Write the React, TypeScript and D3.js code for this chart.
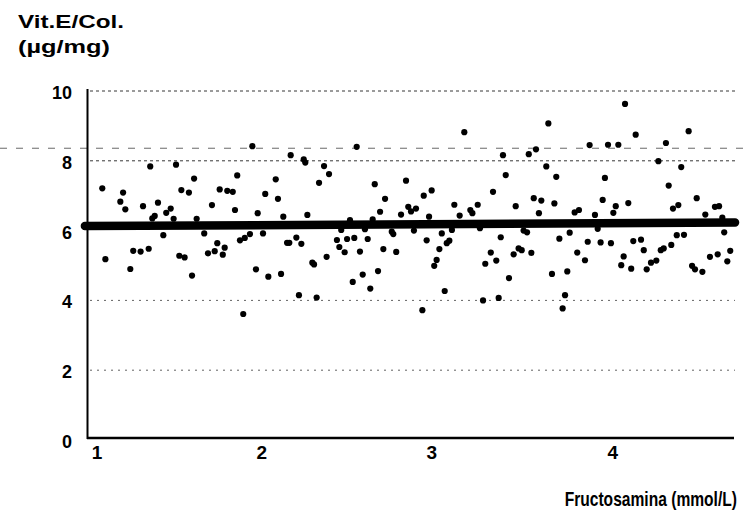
import React from "react";
import * as d3 from "d3";

const fructosamina = [
  1.054, 1.072, 1.175, 1.159, 1.188, 1.217, 1.234, 1.277, 1.324, 1.333, 1.291, 1.378, 1.359, 1.345, 1.409, 1.426, 1.452, 1.469, 1.483, 1.514,
  1.558, 1.588, 1.502, 1.533, 1.576, 1.603, 1.647, 1.692, 1.737, 1.781, 1.813, 1.839, 1.826, 1.723, 1.766, 1.755, 1.708, 1.669, 1.855, 1.883,
  1.913, 1.927, 1.958, 1.989, 2.002, 1.948, 2.020, 2.076, 2.063, 2.094, 2.107, 2.129, 2.142, 2.183, 2.212, 2.150, 2.226, 2.235, 2.247, 2.198,
  1.874, 2.315, 2.344, 2.373, 2.276, 2.286, 2.359, 2.301, 2.419, 2.433, 2.464, 2.478, 2.520, 2.553, 2.495, 2.444, 2.534, 2.598, 2.639, 2.670,
  2.699, 2.627, 2.582, 2.511, 2.569, 2.613, 2.658, 2.689, 2.738, 2.747, 2.764, 2.792, 2.821, 2.834, 2.850, 2.879, 2.867, 2.924, 2.970, 2.955,
  2.941, 3.015, 3.029, 3.058, 3.073, 3.088, 2.999, 2.985, 3.046, 2.916, 3.102, 3.133, 3.160, 3.195, 3.207, 3.238, 3.251, 3.327, 3.282, 3.314,
  3.346, 3.269, 3.360, 3.372, 3.385, 3.401, 3.420, 3.447, 3.459, 3.476, 3.494, 3.505, 3.525, 3.535, 3.577, 3.564, 3.608, 3.594, 3.550, 3.637,
  3.649, 3.695, 3.684, 3.713, 3.773, 3.670, 3.759, 3.746, 3.732, 3.817, 3.862, 3.802, 3.827, 3.878, 3.889, 3.920, 3.936, 3.953, 3.965, 3.978,
  3.996, 4.013, 4.027, 4.041, 4.056, 4.073, 4.087, 4.095, 4.114, 4.131, 4.143, 4.157, 4.188, 4.204, 4.221, 4.246, 4.277, 4.289, 4.303, 4.320,
  4.333, 4.349, 4.364, 4.374, 4.405, 4.396, 4.422, 4.438, 4.465, 4.512, 4.485, 4.502, 4.545, 4.562, 4.589, 4.618, 4.642, 4.634, 4.661, 4.672,
  4.707, 4.690,
];

const vitE = [
  7.21, 5.18, 7.09, 6.83, 6.61, 4.90, 5.42, 5.40, 5.48, 7.84, 6.70, 6.80, 6.42, 6.35, 5.87, 6.51, 6.63, 6.34, 7.89, 7.16,
  7.09, 7.49, 5.28, 5.23, 4.71, 6.34, 5.92, 6.73, 7.18, 7.14, 7.11, 7.58, 6.59, 5.64, 5.51, 5.31, 5.41, 5.35, 5.72, 5.79,
  5.90, 8.42, 6.50, 5.92, 7.05, 4.89, 4.68, 6.91, 7.47, 4.76, 6.40, 5.65, 5.65, 5.80, 5.62, 8.16, 8.04, 7.95, 6.45, 4.15,
  3.61, 7.37, 7.85, 7.62, 5.08, 5.03, 5.25, 4.08, 5.73, 5.53, 5.38, 5.76, 5.79, 5.40, 6.30, 6.02, 8.40, 5.76, 7.33, 6.54,
  6.91, 6.32, 6.04, 4.53, 4.74, 4.34, 4.84, 5.47, 5.97, 5.90, 5.39, 6.46, 7.43, 6.68, 6.55, 6.63, 6.00, 7.00, 7.15, 6.40,
  5.72, 5.47, 5.92, 5.64, 5.71, 6.02, 5.16, 4.99, 4.27, 3.72, 6.74, 6.43, 8.82, 6.59, 6.50, 6.74, 6.07, 7.11, 5.05, 5.37,
  5.14, 4.00, 4.07, 5.81, 8.16, 7.59, 4.64, 5.32, 6.70, 5.49, 5.44, 6.00, 5.95, 8.19, 8.33, 6.93, 6.86, 6.50, 5.36, 7.84,
  9.07, 7.54, 6.78, 5.77, 5.94, 4.76, 4.83, 4.15, 3.77, 5.37, 5.15, 6.52, 6.59, 5.68, 8.45, 6.45, 6.05, 5.66, 6.88, 7.51,
  8.46, 5.64, 6.51, 6.70, 8.46, 5.01, 5.26, 9.63, 6.79, 4.91, 5.70, 8.75, 5.74, 5.44, 4.89, 5.08, 5.14, 7.99, 5.44, 5.49,
  8.51, 7.29, 5.59, 6.63, 6.73, 5.87, 7.82, 5.88, 8.85, 6.93, 4.99, 4.89, 4.82, 6.46, 5.25, 6.68, 6.70, 5.32, 6.37, 5.95,
  5.42, 5.12,
];

const yTicks = [0, 2, 4, 6, 8, 10];
const xTicks = [1, 2, 3, 4];
const gridValues = [2, 4, 8, 10];
const regressionX = [0.953, 4.735];
const regressionY = [6.13, 6.23];
const referenceLineValue = 8.36;

const W = 748;
const H = 516;
const FONT = "'Liberation Sans', Arial, Helvetica, sans-serif";

export default function App() {
  const x = d3.scaleLinear().domain([1, 4]).range([93, 608.7]);
  const y = d3.scaleLinear().domain([0, 10]).range([440, 91]);

  const points = fructosamina.map((fx, i) => ({ fx, vy: vitE[i] }));
  const regLine = d3
    .line<number>()
    .x((d) => x(d))
    .y((_, i) => y(regressionY[i]));

  const gridX0 = 90;
  const gridX1 = 735;

  return (
    <svg
      width={W}
      height={H}
      viewBox={`0 0 ${W} ${H}`}
      style={{ position: "absolute", left: 0, top: 0, background: "#fff" }}
      fontFamily={FONT}
    >
      <rect x={0} y={0} width={W} height={H} fill="#fff" />

      {/* gridlines */}
      {gridValues.map((g) => (
        <line
          key={g}
          x1={gridX0}
          x2={gridX1}
          y1={y(g)}
          y2={y(g)}
          stroke="#222"
          strokeWidth={1}
          strokeDasharray={g >= 8 ? "3,3" : "2,5"}
          opacity={g >= 8 ? 0.9 : 0.7}
        />
      ))}

      {/* long dashed reference line across the page */}
      <line
        x1={0}
        x2={W}
        y1={y(referenceLineValue)}
        y2={y(referenceLineValue)}
        stroke="#444"
        strokeWidth={1}
        strokeDasharray="7,9"
        opacity={0.8}
      />

      {/* axes */}
      <line x1={87.5} x2={87.5} y1={y(10) - 2} y2={y(0) - 1} stroke="#000" strokeWidth={2} />
      <line x1={87} x2={734} y1={y(0) - 2} y2={y(0) - 2} stroke="#000" strokeWidth={2.5} />

      {/* points */}
      {points.map((p, i) => (
        <circle key={i} cx={x(p.fx)} cy={y(p.vy)} r={3.1} fill="#000" />
      ))}

      {/* regression line */}
      <path
        d={regLine(regressionX) || ""}
        stroke="#000"
        strokeWidth={8.5}
        strokeLinecap="round"
        fill="none"
      />

      {/* y tick labels */}
      {yTicks.map((t) => (
        <text
          key={t}
          x={72}
          y={y(t) + 2}
          textAnchor="end"
          dominantBaseline="central"
          fontSize={18}
          fontWeight="bold"
          fill="#000"
        >
          {t}
        </text>
      ))}

      {/* x tick labels */}
      {xTicks.map((t) => (
        <text
          key={t}
          x={x(t) + (t === 1 ? 4 : t === 2 ? -3 : t === 3 ? -5 : 4)}
          y={459}
          textAnchor="middle"
          fontSize={19}
          fontWeight="bold"
          fill="#000"
        >
          {t}
        </text>
      ))}

      {/* titles */}
      <text x={18} y={28} fontSize={19} fontWeight="bold" fill="#000" textLength={106} lengthAdjust="spacingAndGlyphs">
        Vit.E/Col.
      </text>
      <text x={18} y={53} fontSize={19} fontWeight="bold" fill="#000" textLength={92} lengthAdjust="spacingAndGlyphs">
        (µg/mg)
      </text>
      <g transform="translate(737,506) scale(0.78,1)">
        <text x={0} y={0} textAnchor="end" fontSize={20} fontWeight="bold" fill="#000">
          Fructosamina (mmol/L)
        </text>
      </g>
    </svg>
  );
}
